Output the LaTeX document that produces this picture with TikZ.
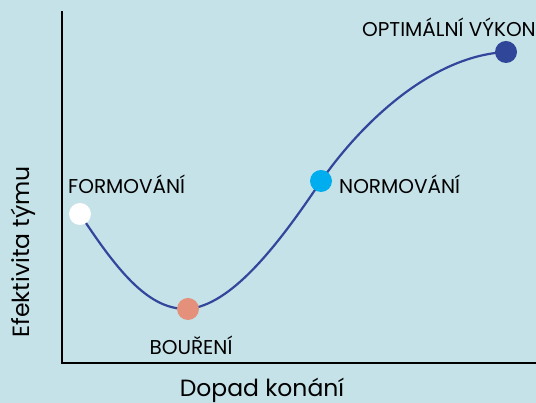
\documentclass[tikz,border=0pt]{standalone}
\usepackage{fontspec}
\setmainfont{Poppins}
\definecolor{bg}{HTML}{C5E2E8}
\definecolor{curve}{HTML}{32469C}
\definecolor{salmon}{HTML}{E4907A}
\definecolor{cyanb}{HTML}{00AEEF}
\definecolor{navy}{HTML}{2F4699}
\begin{document}
\begin{tikzpicture}[x=1pt,y=1pt,
  dot/.style={circle,inner sep=0pt,minimum size=22pt},
  lbl/.style={font=\fontsize{20}{22}\selectfont,text=black,inner sep=0pt},
  axlbl/.style={font=\fontsize{23.5}{25}\selectfont,text=black,inner sep=0pt}]
\fill[bg] (0,0) rectangle (536,403);
\useasboundingbox (0,0) rectangle (536,403);
\coordinate (ytop) at (62,391);
\coordinate (orig) at (62,40);
\coordinate (xend) at (536,40);
\draw[line width=2pt,line cap=rect] (ytop) -- (orig) -- (xend);
\coordinate (pf) at (80,189);
\coordinate (pb) at (188,94);
\coordinate (pn) at (321,222);
\coordinate (po) at (506,351);
\draw[curve,line width=2.2pt] (pf) .. controls (120,128) and (150,93) .. (pb)
  .. controls (230,98) and (275,153) .. (pn)
  .. controls (360,278) and (430,347) .. (po);
\node[dot,fill=white] (nf) at (pf) {};
\node[dot,fill=salmon] (nb) at (pb) {};
\node[dot,fill=cyanb] (nn) at (pn) {};
\node[dot,fill=navy] (no) at (po) {};
\node[lbl,anchor=west] (tf) at (68,219) {FORMOVÁNÍ};
\node[lbl] (tb) at (191,58) {BOUŘENÍ};
\node[lbl,anchor=west] (tn) at (339,219) {NORMOVÁNÍ};
\node[lbl,anchor=east] (to) at (536,376) {OPTIMÁLNÍ VÝKON};
\node[axlbl,rotate=90] (ty) at (23,151) {Efektivita týmu};
\node[axlbl] (tx) at (262,13) {Dopad konání};
\end{tikzpicture}
\end{document}
